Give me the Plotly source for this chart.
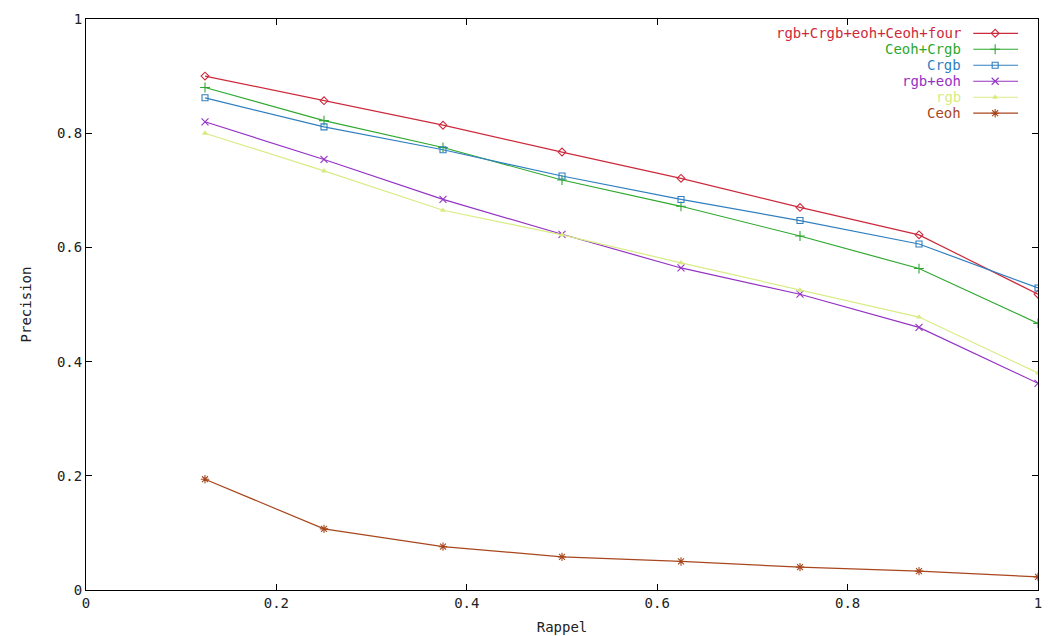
import plotly.graph_objects as go

recall = [0.125, 0.25, 0.375, 0.5, 0.625, 0.75, 0.875, 1.0]

series_names = ["rgb+Crgb+eoh+Ceoh+four", "Ceoh+Crgb", "Crgb", "rgb+eoh", "rgb", "Ceoh"]
all_features = [0.900, 0.857, 0.814, 0.767, 0.721, 0.670, 0.622, 0.518]
ceoh_crgb = [0.880, 0.822, 0.775, 0.718, 0.672, 0.620, 0.563, 0.467]
crgb = [0.862, 0.811, 0.771, 0.725, 0.684, 0.647, 0.606, 0.529]
rgb_eoh = [0.820, 0.754, 0.684, 0.623, 0.564, 0.518, 0.460, 0.362]
rgb = [0.800, 0.734, 0.665, 0.622, 0.573, 0.525, 0.478, 0.380]
ceoh = [0.194, 0.107, 0.076, 0.058, 0.050, 0.040, 0.033, 0.023]

x_ticks = [0, 0.2, 0.4, 0.6, 0.8, 1]
x_tick_labels = ["0", "0.2", "0.4", "0.6", "0.8", "1"]
y_ticks = [0, 0.2, 0.4, 0.6, 0.8, 1]
y_tick_labels = ["0", "0.2", "0.4", "0.6", "0.8", "1"]

values = [all_features, ceoh_crgb, crgb, rgb_eoh, rgb, ceoh]
colors = ["#cc2a3c", "#2ea82e", "#2f7fc0", "#9433c4", "#d8ec84", "#a8471e"]
symbols = ["diamond-open", "cross-thin-open", "square-open", "x-thin-open", "triangle-up", "asterisk-open"]
sizes = [6, 7, 6, 7, 4, 7]

FONT = "DejaVu Sans Mono"

fig = go.Figure()
for name, ys, c, s, sz in zip(series_names, values, colors, symbols, sizes):
    fig.add_trace(go.Scatter(
        x=recall, y=ys, name=name, mode="lines+markers",
        line=dict(color=c, width=1.2),
        marker=dict(symbol=s, size=sz, color=c, line=dict(color=c, width=1.1)),
        showlegend=False,
    ))

# custom gnuplot-style legend (text right, sample on the right)
row_top = 0.975
row_step = 0.028
text_x = 0.921
line_x0, line_x1, mark_x = 0.932, 0.979, 0.955
for i, (name, c, s, sz) in enumerate(zip(series_names, colors, symbols, sizes)):
    yy = row_top - i * row_step
    fig.add_annotation(x=text_x, y=yy, xref="paper", yref="paper", text=name,
                       showarrow=False, xanchor="right", yanchor="middle",
                       font=dict(family=FONT, size=14, color=c))
    fig.add_shape(type="line", xref="paper", yref="paper", x0=line_x0, x1=line_x1,
                  y0=yy, y1=yy, line=dict(color=c, width=1.2))
    fig.add_trace(go.Scatter(x=[mark_x], y=[yy], xaxis="x2", yaxis="y2", mode="markers",
                             marker=dict(symbol=s, size=sz, color=c, line=dict(color=c, width=1.1)),
                             showlegend=False, hoverinfo="skip"))

axis_common = dict(showline=True, linecolor="black", linewidth=1, mirror="allticks",
                   ticks="inside", ticklen=6, tickcolor="black", showgrid=False,
                   zeroline=False, automargin=False,
                   tickfont=dict(family=FONT, size=14, color="#222"))

fig.update_layout(
    width=1045, height=628,
    margin=dict(l=78, r=15, t=11, b=46),
    paper_bgcolor="white", plot_bgcolor="white",
    xaxis=dict(range=[0, 1], tickvals=x_ticks, ticktext=x_tick_labels,
               title=dict(text="Rappel", font=dict(family=FONT, size=14, color="#222"), standoff=12),
               **axis_common),
    yaxis=dict(range=[0, 1], tickvals=y_ticks, ticktext=y_tick_labels,
               title=dict(text="Precision", font=dict(family=FONT, size=14, color="#222"), standoff=22),
               **axis_common),
    xaxis2=dict(range=[0, 1], overlaying="x", visible=False),
    yaxis2=dict(range=[0, 1], overlaying="y", visible=False),
    showlegend=False,
)

fig.write_html("out.html")
